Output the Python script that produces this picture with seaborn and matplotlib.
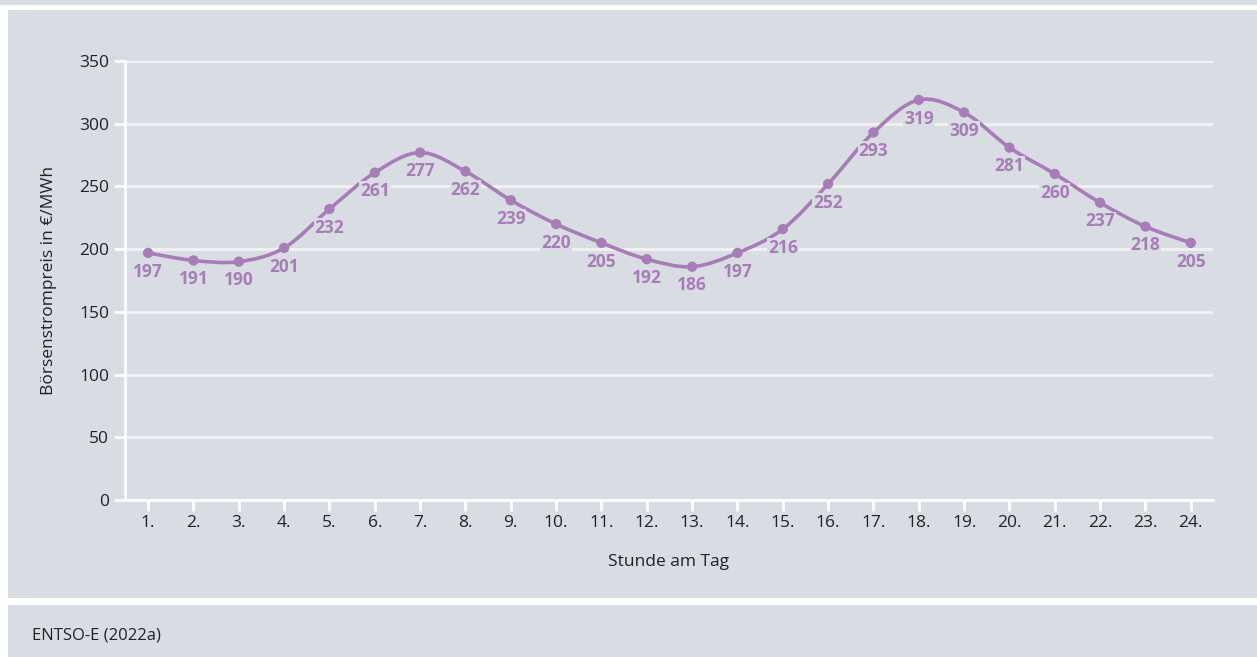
import numpy as np
import pandas as pd
import matplotlib.pyplot as plt
import seaborn as sns
from matplotlib.path import Path
from matplotlib.patches import PathPatch, Rectangle

# -----------------------------
# DATA
# -----------------------------
hours = list(range(1, 25))
hour_labels = [f"{h}." for h in hours]
prices = [197, 191, 190, 201, 232, 261, 277, 262, 239, 220, 205, 192,
          186, 197, 216, 252, 293, 319, 309, 281, 260, 237, 218, 205]
y_ticks = [0, 50, 100, 150, 200, 250, 300, 350]

df = pd.DataFrame({"stunde": hours, "preis": prices})

# -----------------------------
# STYLE
# -----------------------------
bg = "#d9dce2"
purple = "#a77db7"
sns.set_theme(style="white")
plt.rcParams["font.family"] = ["Open Sans", "DejaVu Sans"]

fig = plt.figure(figsize=(12.57, 6.57), dpi=100, facecolor="white")

# background panels (figure coords)
W, H = 1257, 657
def panel(x0, y0, x1, y1):
    fig.patches.append(Rectangle((x0 / W, 1 - y1 / H), (x1 - x0) / W, (y1 - y0) / H,
                                 transform=fig.transFigure, facecolor=bg,
                                 edgecolor="none", zorder=-10))
panel(0, 0, W, 5)
panel(8, 10, W, 598)
panel(8, 605, W, H)

ax = fig.add_axes([125 / W, 1 - 500 / H, (1213 - 125) / W, (500 - 61) / H])
ax.set_facecolor(bg)

# smooth curve (Catmull-Rom as cubic Bezier segments)
x = np.array(hours, dtype=float)
y = np.array(prices, dtype=float)
verts = [(x[0], y[0])]
codes = [Path.MOVETO]
for i in range(len(x) - 1):
    p0 = (x[i - 1], y[i - 1]) if i > 0 else (x[i], y[i])
    p1 = (x[i], y[i])
    p2 = (x[i + 1], y[i + 1])
    p3 = (x[i + 2], y[i + 2]) if i + 2 < len(x) else p2
    c1 = (p1[0] + (p2[0] - p0[0]) / 6, p1[1] + (p2[1] - p0[1]) / 6)
    c2 = (p2[0] - (p3[0] - p1[0]) / 6, p2[1] - (p3[1] - p1[1]) / 6)
    verts += [c1, c2, p2]
    codes += [Path.CURVE4] * 3
ax.add_patch(PathPatch(Path(verts, codes), facecolor="none", edgecolor=purple,
                       lw=2.6, capstyle="round", zorder=3))

sns.scatterplot(data=df, x="stunde", y="preis", ax=ax, color=purple,
                s=55, edgecolor="none", zorder=4, legend=False)

for h, p in zip(hours, prices):
    ax.annotate(str(p), (h, p), xytext=(0, -7), textcoords="offset points",
                ha="center", va="top", fontsize=12.5, fontweight="bold",
                color=purple, zorder=5,
                bbox=dict(boxstyle="square,pad=0.05", facecolor=bg, edgecolor="none"))

# -----------------------------
# AXES
# -----------------------------
ax.set_xlim(0.49, 24.49)
ax.set_ylim(0, 350)
ax.set_yticks(y_ticks)
ax.set_xticks(hours)
ax.set_xticklabels(hour_labels)
ax.yaxis.grid(True, color="#f2f2f2", lw=2, zorder=0)
ax.set_axisbelow(True)
for side in ["top", "right"]:
    ax.spines[side].set_visible(False)
for side in ["left", "bottom"]:
    ax.spines[side].set_color("white")
    ax.spines[side].set_linewidth(2)
ax.tick_params(axis="both", colors="white", width=2, length=8, labelsize=12.5,
               labelcolor="#222222", left=True, bottom=True)
ax.tick_params(axis="x", pad=3)

ax.set_xlabel("Stunde am Tag", fontsize=12.5, color="#222222", labelpad=16)
ax.set_ylabel("Börsenstrompreis in €/MWh", fontsize=12.5, color="#222222", labelpad=16)

fig.text(32 / W, 1 - 635 / H, "ENTSO-E (2022a)", fontsize=12, color="#222222",
         va="center", ha="left")

plt.savefig("out.png", dpi=100, facecolor="white")
plt.close()
